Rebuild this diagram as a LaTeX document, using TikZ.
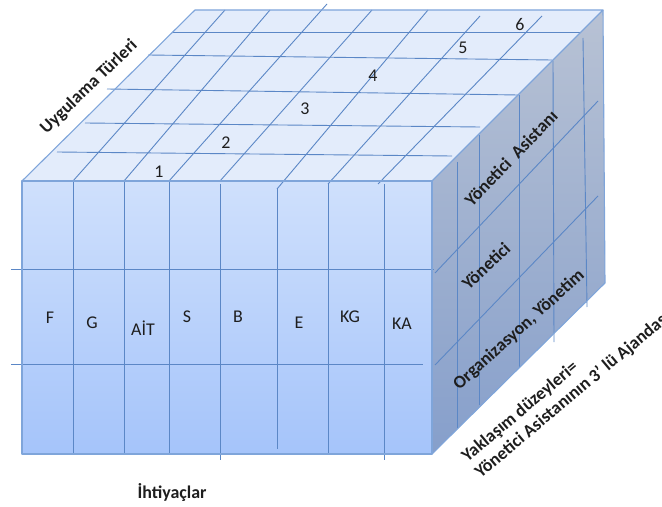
\documentclass[tikz,border=0pt]{standalone}
\usepackage{fontspec}
\setmainfont{Carlito}
\definecolor{lineC}{HTML}{5B87C6}
\definecolor{edgeC}{HTML}{7FA5DA}
\definecolor{frontTop}{HTML}{CFE0FC}
\definecolor{frontBot}{HTML}{A5C4FA}
\definecolor{topC}{HTML}{E3ECFB}
\definecolor{sideTop}{HTML}{B8C2D4}
\definecolor{sideBot}{HTML}{869FCB}
\definecolor{txt}{HTML}{1E1E1E}
\begin{document}
\begin{tikzpicture}[x=1bp,y=-1bp,
  gridline/.style={draw=lineC, line width=0.9bp},
  edge/.style={draw=edgeC, line width=1.1bp, line join=round},
  lab/.style={font=\fontsize{18}{21}\selectfont, text=txt, inner sep=0pt},
  blab/.style={font=\fontsize{18}{21}\selectfont\bfseries, text=txt, inner sep=0pt}]
\useasboundingbox (0,0) rectangle (662,507);
% faces
\fill[topC] (22,181) -- (195,10) -- (603,10) -- (432,181) -- cycle;
\shade[top color=sideTop, bottom color=sideBot] (432,181) -- (603,10) -- (605,283) -- (432,454) -- cycle;
\shade[top color=frontTop, bottom color=frontBot] (22,181) rectangle (432,454);
% front grid
\draw[gridline] (73,181) -- (73,454);
\draw[gridline] (124,181) -- (124,454);
\draw[gridline] (169,181) -- (169,454);
\draw[gridline] (220,184) -- (220,460);
\draw[gridline] (277,189) -- (277,449);
\draw[gridline] (328,184) -- (328,454);
\draw[gridline] (384,184) -- (384,460);
\draw[gridline] (11,269) -- (434,269);
\draw[gridline] (11,364) -- (423,364);
% top grid
\draw[gridline] (173,32) -- (580,32);
\draw[gridline] (148,55) -- (552,60);
\draw[gridline] (107,89) -- (518,95);
\draw[gridline] (85,123) -- (480,127);
\draw[gridline] (57,152) -- (452,156);
\draw[gridline] (73,181) -- (225,10);
\draw[gridline] (124,181) -- (270,10);
\draw[gridline] (169,181) -- (327,4);
\draw[gridline] (220,181) -- (372,10);
\draw[gridline] (277,189) -- (428,10);
\draw[gridline] (328,184) -- (480,16);
\draw[gridline] (378,184) -- (542,16);
% right grid
\draw[gridline] (457,162) -- (457,428);
\draw[gridline] (479,135) -- (479,405);
\draw[gridline] (519,95) -- (519,367);
\draw[gridline] (553,61) -- (554,342);
\draw[gridline] (583,38) -- (587,307);
\draw[gridline] (435,273) -- (598,101);
\draw[gridline] (435,365) -- (598,196);
% outline
\draw[edge] (22,181) rectangle (432,454);
\draw[edge] (22,181) -- (195,10) -- (603,10) -- (432,181);
\draw[edge] (603,10) -- (605,283) -- (432,454);
% numbers
\node[lab] (n1) at (159,172) {1};
\node[lab] (n2) at (226,143) {2};
\node[lab] (n3) at (305,109) {3};
\node[lab] (n4) at (373,76) {4};
\node[lab] (n5) at (463,48) {5};
\node[lab] (n6) at (520,25) {6};
% front labels
\node[lab] (f) at (50,318) {F};
\node[lab] (g) at (92,323) {G};
\node[lab] (ait) at (143,328) {AİT};
\node[lab] (s) at (187,317) {S};
\node[lab] (b) at (238,317) {B};
\node[lab] (e) at (299,323) {E};
\node[lab] (kg) at (350,317) {KG};
\node[lab] (ka) at (402,324) {KA};
% axis labels
\node[blab] (iht) at (172,493) {İhtiyaçlar};
\node[blab, rotate=44] (uyg) at (89,87) {Uygulama Türleri};
\node[blab, rotate=46] (ya) at (511,158) {Yönetici~~Asistanı};
\node[blab, rotate=43] (yon) at (486,266) {Yönetici};
\node[blab, rotate=42] (org) at (519,330) {Organizasyon, Yönetim};
\node[blab, rotate=40, align=left, anchor=west] (yak) at (471,467) {Yaklaşım düzeyleri=\\Yönetici Asistanının 3’ lü Ajandası};
\end{tikzpicture}
\end{document}
